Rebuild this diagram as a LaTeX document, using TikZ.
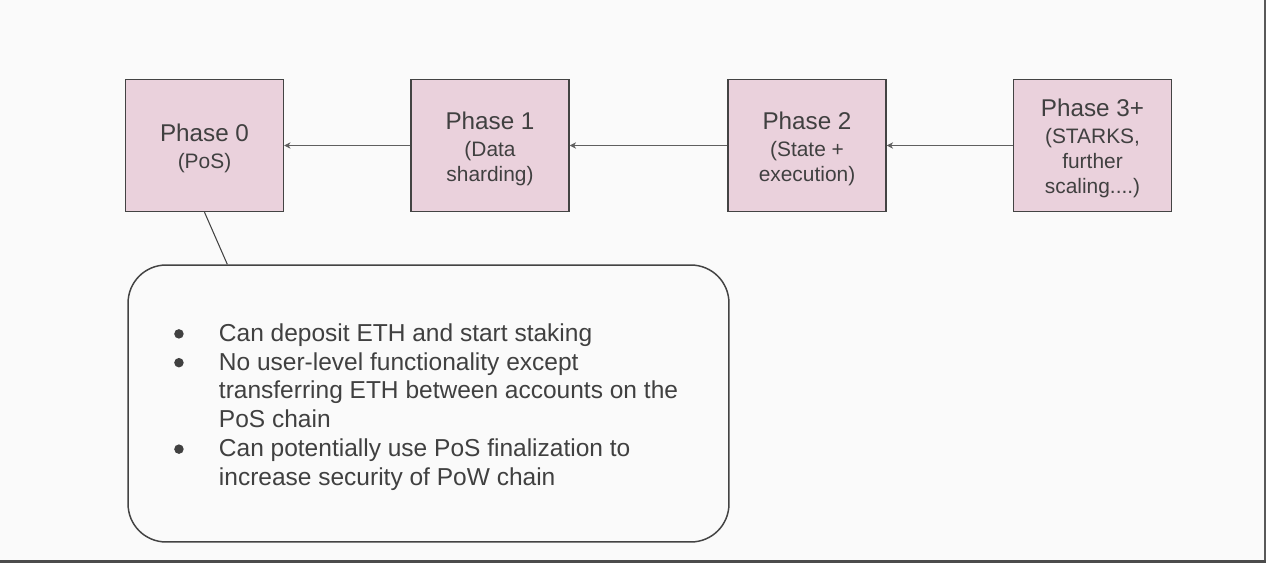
\documentclass[tikz,border=0pt]{standalone}
\usepackage{fontspec}
\setmainfont{Liberation Sans}
\usepackage{tikz}
\usetikzlibrary{arrows.meta}
\definecolor{phasepink}{HTML}{EAD1DC}
\definecolor{edgegrey}{HTML}{434343}
\definecolor{textgrey}{HTML}{404040}
\definecolor{pagegrey}{HTML}{FAFAFA}
\def\phasetext#1#2{{\fontsize{13.8}{15.9}\selectfont\rule{0pt}{13.5pt}#1}\\[1.2pt]#2}
\def\bulletmark{\makebox[0pt]{\tikz[baseline=-0.3em]\fill[textgrey] (0,0) circle (0.095cm);}}

\tikzset{
	phase/.style={draw=edgegrey, line width=0.85pt, fill=phasepink, minimum width=3.16cm, minimum height=2.64cm, align=center, text=textgrey, font=\fontsize{11.9}{14.2}\selectfont},
	link/.style={draw=edgegrey!85, line width=0.6pt, -{Stealth[length=3.6pt,width=3.6pt]}}
}

\begin{document}
\begin{tikzpicture}[x=0.02cm, y=-0.02cm]
		%%%%% START %%%%%
		
		\useasboundingbox (0, 0) rectangle (1266, 563);
		\fill[pagegrey] (0, 0) rectangle (1266, 563);
		\draw[line width=1.1pt, color=black!65] (1265, 0) -- (1265, 563);
		\draw[line width=1.7pt, color=black!70] (0, 561.5) -- (1266, 561.5);
		
		\node[phase] (p0) at (204.5, 145.5) {\phasetext{Phase 0}{(PoS)}};
		\node[phase] (p1) at (490, 145.5) {\phasetext{Phase 1}{(Data\\sharding)}};
		\node[phase] (p2) at (807, 145.5) {\phasetext{Phase 2}{(State +\\execution)}};
		\node[phase] (p3) at (1092.5, 145.5) {\phasetext{Phase 3+}{(STARKS,\\further\\scaling....)}};
		
		\draw[link] (p1) -- (p0);
		\draw[link] (p2) -- (p1);
		\draw[link] (p3) -- (p2);
		
		\node[draw=edgegrey, line width=0.85pt, rounded corners=0.76cm, minimum width=12.02cm, minimum height=5.54cm, text=textgrey, font=\fontsize{13.95}{16.4}\selectfont] (notes) at (428.5, 403.5) {%
			\begin{tabular}{@{}p{0.8cm}@{}l@{}}
				\noalign{\vspace{0.16cm}}
				\bulletmark & Can deposit ETH and start staking\\
				\bulletmark & No user-level functionality except\\
				& transferring ETH between accounts on the\\
				& PoS chain\\
				\bulletmark & Can potentially use PoS finalization to\\
				& increase security of PoW chain
			\end{tabular}};
		
		\draw[line width=0.6pt, color=edgegrey] (p0.south) -- ([xshift=2cm]notes.north west);
		
		%%%%% END %%%%%
	\end{tikzpicture}
\end{document}
